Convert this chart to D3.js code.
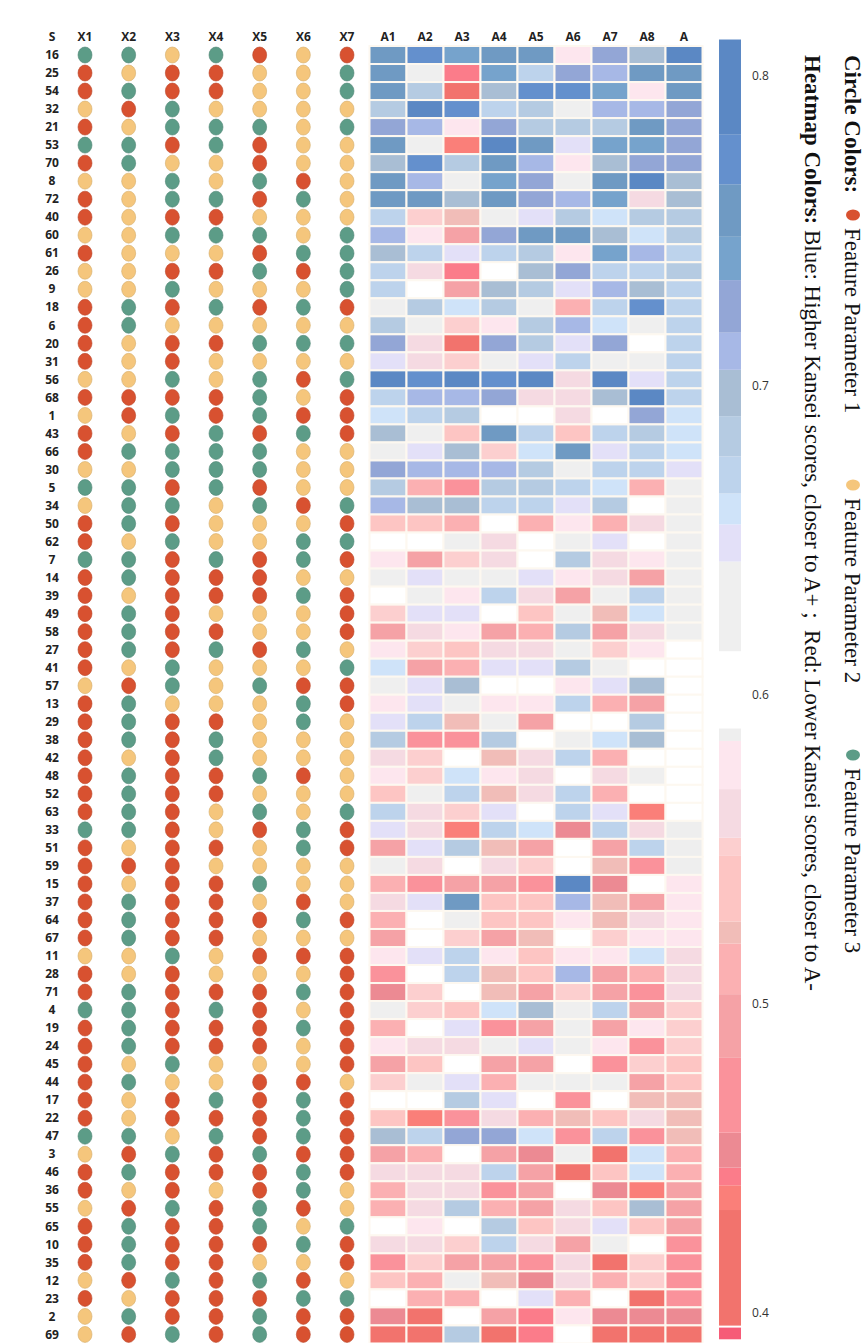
<!DOCTYPE html>
<html>
<head>
<meta charset="utf-8">
<script src="https://cdn.jsdelivr.net/npm/d3@7"></script>
<style>
  html, body { margin: 0; padding: 0; background: #fff; }
  svg { display: block; }
  .lbl { font-family: "Open Sans", "Noto Sans", sans-serif; font-weight: 700; font-size: 12px; fill: #222; }
  .legend { font-family: "Liberation Serif", "Times New Roman", serif; font-size: 23px; fill: #111; white-space: pre; }
</style>
</head>
<body>
<svg id="chart" width="865" height="1343"></svg>
<script>
// ---- data ----
const sampleIds = ["16","25","54","32","21","53","70","8","72","40","60","61",
  "26","9","18","6","20","31","56","68","1","43","66","30",
  "5","34","50","62","7","14","39","49","58","27","41","57",
  "13","29","38","42","48","52","63","33","51","59","15","37",
  "64","67","11","28","71","4","19","24","45","44","17","22",
  "47","3","46","36","55","65","10","35","12","23","2","69"];

const featureCols = ["X1","X2","X3","X4","X5","X6","X7"];
const scoreCols = ["A1","A2","A3","A4","A5","A6","A7","A8","A"];

const featureNames = ["Feature Parameter 1", "Feature Parameter 2", "Feature Parameter 3"];
const featureColors = ["#d85130", "#f5c67c", "#5c9c87"];

// 1 = parameter 1, 2 = parameter 2, 3 = parameter 3
const features = [
  [3,3,2,3,1,2,1],[1,2,1,1,2,2,3],[1,3,1,1,2,2,3],[2,1,3,2,2,2,2],[1,2,3,3,3,2,3],[3,3,1,3,1,2,2],
  [1,3,2,2,1,2,2],[2,2,3,2,3,1,2],[1,2,3,3,1,3,2],[1,2,1,1,2,2,2],[2,2,3,3,3,2,3],[1,2,2,2,1,3,3],
  [2,2,1,1,3,1,3],[2,2,3,2,2,2,3],[1,3,1,3,1,3,1],[1,3,2,2,2,2,2],[1,2,1,1,3,3,3],[1,2,1,2,2,2,2],
  [2,2,3,2,3,1,3],[1,1,1,1,3,2,1],[2,1,3,1,3,1,1],[1,2,1,3,1,3,1],[1,3,3,3,3,2,2],[2,2,3,3,3,2,2],
  [3,3,1,3,1,2,2],[2,3,3,2,3,1,3],[1,3,1,2,2,2,1],[1,2,3,2,2,3,3],[3,3,1,3,1,3,1],[1,3,1,1,1,2,2],
  [1,2,1,1,1,3,1],[1,3,1,2,2,2,1],[1,3,1,1,2,2,1],[1,3,1,3,1,3,2],[1,2,3,2,2,2,3],[2,1,3,2,3,1,1],
  [1,3,2,2,2,3,1],[1,3,1,1,2,3,2],[1,3,1,3,2,2,2],[1,2,1,3,2,2,2],[1,3,1,1,3,1,2],[1,3,1,1,2,2,2],
  [1,3,1,2,3,2,3],[3,3,1,2,1,3,1],[1,2,1,1,2,3,1],[1,1,1,2,2,2,2],[1,2,1,1,3,2,2],[1,3,1,1,2,1,2],
  [1,3,1,1,1,3,1],[1,3,1,1,2,2,2],[2,2,3,2,1,1,1],[1,2,1,2,2,2,1],[1,3,1,1,1,3,1],[3,3,1,3,1,2,1],
  [1,3,1,1,1,3,1],[1,3,1,1,1,2,1],[1,2,3,2,2,2,1],[1,3,2,2,1,1,2],[1,2,1,3,1,3,1],[1,2,1,1,1,3,1],
  [3,3,2,3,1,3,1],[2,1,3,1,3,1,1],[1,3,1,1,1,3,1],[1,2,1,2,1,3,2],[2,1,3,1,3,1,2],[1,3,1,1,3,2,3],
  [1,3,1,1,1,3,1],[1,3,1,1,2,2,1],[2,1,3,1,3,1,2],[1,2,1,1,1,3,3],[2,3,1,1,3,1,1],[2,1,3,1,3,1,1]
];

// Kansei scores A1..A8 and the overall A
const scores = [
  [0.755,0.772,0.74,0.75,0.755,0.577,0.72,0.695,0.79],
  [0.75,0.625,0.444,0.74,0.668,0.725,0.71,0.75,0.755],
  [0.752,0.683,0.415,0.695,0.772,0.772,0.74,0.577,0.752],
  [0.683,0.79,0.772,0.668,0.683,0.625,0.71,0.71,0.73],
  [0.728,0.71,0.577,0.72,0.683,0.683,0.683,0.752,0.725],
  [0.752,0.625,0.437,0.79,0.75,0.648,0.74,0.74,0.722],
  [0.695,0.772,0.683,0.75,0.71,0.577,0.7,0.72,0.72],
  [0.752,0.71,0.625,0.74,0.725,0.625,0.752,0.79,0.7],
  [0.752,0.75,0.695,0.75,0.725,0.71,0.745,0.562,0.695],
  [0.668,0.551,0.523,0.625,0.648,0.683,0.659,0.683,0.685],
  [0.71,0.577,0.492,0.72,0.752,0.75,0.695,0.659,0.68],
  [0.695,0.668,0.648,0.668,0.683,0.577,0.74,0.71,0.676],
  [0.668,0.562,0.444,0.6,0.695,0.725,0.668,0.668,0.678],
  [0.668,0.6,0.492,0.695,0.683,0.648,0.71,0.695,0.674],
  [0.625,0.683,0.659,0.683,0.625,0.511,0.668,0.772,0.672],
  [0.683,0.625,0.551,0.577,0.683,0.71,0.659,0.625,0.67],
  [0.72,0.562,0.415,0.72,0.683,0.648,0.72,0.6,0.669],
  [0.648,0.562,0.551,0.625,0.648,0.668,0.625,0.635,0.668],
  [0.79,0.772,0.79,0.772,0.79,0.562,0.79,0.648,0.667],
  [0.668,0.71,0.71,0.725,0.562,0.562,0.695,0.79,0.666],
  [0.659,0.668,0.683,0.6,0.6,0.562,0.6,0.725,0.664],
  [0.695,0.625,0.537,0.752,0.668,0.537,0.668,0.683,0.662],
  [0.625,0.648,0.695,0.551,0.659,0.755,0.648,0.668,0.66],
  [0.72,0.71,0.71,0.71,0.683,0.625,0.668,0.668,0.652],
  [0.683,0.511,0.47,0.683,0.683,0.668,0.659,0.511,0.63],
  [0.71,0.695,0.695,0.668,0.668,0.648,0.683,0.6,0.628],
  [0.537,0.545,0.511,0.6,0.511,0.577,0.505,0.562,0.626],
  [0.6,0.6,0.625,0.562,0.6,0.625,0.648,0.6,0.624],
  [0.577,0.492,0.551,0.562,0.6,0.683,0.562,0.577,0.622],
  [0.625,0.648,0.625,0.625,0.648,0.577,0.562,0.492,0.62],
  [0.6,0.625,0.577,0.668,0.562,0.492,0.625,0.668,0.619],
  [0.551,0.648,0.648,0.6,0.537,0.625,0.523,0.659,0.618],
  [0.492,0.562,0.577,0.492,0.517,0.683,0.5,0.562,0.617],
  [0.577,0.551,0.537,0.562,0.562,0.625,0.551,0.577,0.612],
  [0.659,0.492,0.517,0.648,0.648,0.683,0.625,0.6,0.61],
  [0.625,0.648,0.695,0.6,0.6,0.577,0.648,0.695,0.608],
  [0.577,0.648,0.625,0.577,0.577,0.668,0.511,0.492,0.606],
  [0.648,0.668,0.523,0.625,0.492,0.6,0.6,0.683,0.604],
  [0.683,0.47,0.47,0.683,0.6,0.635,0.659,0.695,0.602],
  [0.562,0.551,0.6,0.523,0.562,0.668,0.511,0.6,0.6],
  [0.577,0.551,0.659,0.577,0.562,0.6,0.562,0.625,0.598],
  [0.537,0.625,0.668,0.523,0.562,0.668,0.511,0.6,0.596],
  [0.668,0.562,0.551,0.648,0.6,0.668,0.648,0.437,0.594],
  [0.648,0.562,0.437,0.668,0.659,0.455,0.668,0.562,0.588],
  [0.492,0.65,0.683,0.523,0.492,0.6,0.492,0.668,0.587],
  [0.625,0.562,0.6,0.562,0.551,0.6,0.523,0.47,0.586],
  [0.517,0.465,0.492,0.492,0.465,0.79,0.452,0.6,0.58],
  [0.562,0.648,0.752,0.537,0.537,0.71,0.523,0.492,0.578],
  [0.511,0.6,0.625,0.537,0.537,0.577,0.523,0.562,0.576],
  [0.492,0.6,0.551,0.492,0.523,0.6,0.551,0.577,0.574],
  [0.577,0.648,0.668,0.577,0.537,0.577,0.58,0.659,0.565],
  [0.47,0.6,0.668,0.523,0.537,0.71,0.492,0.517,0.562],
  [0.452,0.551,0.6,0.523,0.492,0.551,0.492,0.465,0.56],
  [0.625,0.551,0.537,0.659,0.695,0.625,0.668,0.492,0.552],
  [0.517,0.6,0.648,0.465,0.492,0.625,0.492,0.577,0.551],
  [0.577,0.562,0.562,0.625,0.648,0.635,0.577,0.465,0.55],
  [0.492,0.537,0.6,0.492,0.492,0.6,0.47,0.551,0.54],
  [0.551,0.625,0.648,0.517,0.635,0.625,0.62,0.492,0.53],
  [0.6,0.6,0.683,0.648,0.6,0.465,0.6,0.523,0.524],
  [0.537,0.437,0.47,0.562,0.511,0.523,0.537,0.562,0.522],
  [0.695,0.668,0.72,0.72,0.659,0.47,0.668,0.465,0.521],
  [0.492,0.517,0.6,0.492,0.452,0.625,0.415,0.659,0.51],
  [0.562,0.562,0.562,0.668,0.492,0.415,0.537,0.659,0.508],
  [0.517,0.562,0.562,0.465,0.492,0.6,0.452,0.437,0.495],
  [0.511,0.562,0.683,0.511,0.492,0.562,0.537,0.695,0.492],
  [0.6,0.577,0.6,0.683,0.537,0.562,0.648,0.537,0.488],
  [0.562,0.562,0.551,0.668,0.562,0.492,0.62,0.6,0.475],
  [0.465,0.551,0.492,0.492,0.465,0.562,0.415,0.551,0.47],
  [0.537,0.511,0.625,0.523,0.455,0.562,0.511,0.551,0.462],
  [0.6,0.511,0.511,0.6,0.648,0.517,0.6,0.415,0.46],
  [0.452,0.415,0.6,0.492,0.444,0.577,0.452,0.452,0.45],
  [0.41,0.41,0.683,0.41,0.444,0.6,0.415,0.41,0.41]
];

// stepped colour scale (ascending thresholds)
const colorThresholds = [0.3956,0.4333,0.4413,0.447,0.4583,0.4825,0.5031,0.5195,0.5266,0.548,0.5537,0.5694,
  0.585,0.589,0.614,0.643,0.655,0.665,0.677,0.69,0.705,0.717,0.734,0.748,0.765,0.781];
const colorSteps = ["#f65b77","#f2736d","#fa7f79","#fb7c8a","#ec8a93","#fa929b","#f5a2a6","#fbb0b2",
  "#f1bdb8","#fdc5c3","#fccfcf","#f5dae2","#fde6ee","#eeeeee","#ffffff","#efefef","#e3e0f8","#cfe3f9",
  "#bdd3ec","#b5cbe2","#a9bed4","#a7b8e6","#93a6d6","#76a3cc","#6f9ac3","#6490cd","#5b88c4"];
const colorbarExtent = [0.3915, 0.8118];
const colorbarTicks = [0.4, 0.5, 0.6, 0.7, 0.8];

const legendLine2 = ["Heatmap Colors: ", "Blue: Higher Kansei scores, closer to A+ ;  Red: Lower Kansei scores, closer to A-"];

// ---- scales ----
const svg = d3.select("#chart");

const y = d3.scaleBand().domain(sampleIds).range([46, 46 + 18.02 * sampleIds.length]);
const xFeat = d3.scalePoint().domain(featureCols).range([85, 347]);
const xScore = d3.scaleBand().domain(scoreCols).range([369.5, 702.5]);
const color = d3.scaleThreshold().domain(colorThresholds).range(colorSteps);
const yBar = d3.scaleLinear().domain([0.4, 0.8]).range([1313, 76]);

// ---- header ----
svg.append("text").attr("class", "lbl")
  .attr("x", 52).attr("y", 41).attr("text-anchor", "middle").text("S");

svg.append("g").selectAll("text")
  .data(featureCols).join("text")
  .attr("class", "lbl")
  .attr("x", (d) => xFeat(d)).attr("y", 41)
  .attr("text-anchor", "middle").text((d) => d);

svg.append("g").selectAll("text")
  .data(scoreCols).join("text")
  .attr("class", "lbl")
  .attr("x", (d) => xScore(d) + xScore.bandwidth() / 2).attr("y", 41)
  .attr("text-anchor", "middle").text((d) => d);

// ---- rows ----
const rows = svg.append("g").selectAll("g")
  .data(sampleIds.map((id, i) => ({ id, f: features[i], s: scores[i] })))
  .join("g")
  .attr("transform", (d) => `translate(0,${y(d.id)})`);

const bw = y.bandwidth();

rows.append("text").attr("class", "lbl")
  .attr("x", 52).attr("y", bw / 2).attr("dy", "0.35em")
  .attr("text-anchor", "middle").text((d) => d.id);

rows.selectAll("ellipse")
  .data((d) => d.f.map((v, j) => ({ col: featureCols[j], v })))
  .join("ellipse")
  .attr("cx", (d) => xFeat(d.col))
  .attr("cy", bw / 2)
  .attr("rx", 7).attr("ry", 8)
  .attr("fill", (d) => featureColors[d.v - 1])
  .attr("stroke", (d) => d3.color(featureColors[d.v - 1]).darker(0.4))
  .attr("stroke-width", 0.6);

rows.selectAll("rect")
  .data((d) => d.s.map((v, j) => ({ col: scoreCols[j], v })))
  .join("rect")
  .attr("x", (d) => xScore(d.col))
  .attr("y", 0)
  .attr("width", xScore.bandwidth())
  .attr("height", bw)
  .attr("fill", (d) => color(d.v))
  .attr("stroke", "#fdf8f0")
  .attr("stroke-width", 2);

// ---- colour bar ----
const bins = colorSteps.map((c, i) => ({
  c,
  lo: i === 0 ? colorbarExtent[0] : colorThresholds[i - 1],
  hi: i === colorSteps.length - 1 ? colorbarExtent[1] : colorThresholds[i]
})).filter((b) => b.c !== "#ffffff");

svg.append("g").selectAll("rect")
  .data(bins).join("rect")
  .attr("x", 719).attr("width", 22)
  .attr("y", (d) => yBar(d.hi))
  .attr("height", (d) => yBar(d.lo) - yBar(d.hi))
  .attr("fill", (d) => d.c);

// thin white break above the lowest step
svg.append("line")
  .attr("x1", 719).attr("x2", 741)
  .attr("y1", yBar(colorThresholds[0])).attr("y2", yBar(colorThresholds[0]))
  .attr("stroke", "#fff").attr("stroke-width", 2);

const axis = svg.append("g")
  .attr("transform", "translate(741,0)")
  .call(d3.axisRight(yBar).tickValues(colorbarTicks).tickSize(0).tickPadding(11).tickFormat(d3.format(".1f")));
axis.select(".domain").remove();
axis.selectAll("text")
  .attr("font-family", "'Open Sans', 'Noto Sans', sans-serif")
  .attr("font-size", 12).attr("fill", "#333");

// ---- rotated legend ----
const leg1 = svg.append("g").attr("transform", "translate(845,55) rotate(90)");
leg1.append("text").attr("class", "legend").attr("font-weight", 700).text("Circle Colors:");
const itemX = [160, 430, 700];
featureNames.forEach((name, i) => {
  leg1.append("ellipse")
    .attr("cx", itemX[i]).attr("cy", -8)
    .attr("rx", 5.5).attr("ry", 7)
    .attr("fill", featureColors[i]);
  leg1.append("text").attr("class", "legend")
    .attr("x", itemX[i] + 13).text(name);
});

const leg2 = svg.append("g").attr("transform", "translate(805,55) rotate(90)");
const t2 = leg2.append("text").attr("class", "legend");
t2.append("tspan").attr("font-weight", 700).text(legendLine2[0]);
t2.append("tspan").text(legendLine2[1]);
</script>
</body>
</html>
